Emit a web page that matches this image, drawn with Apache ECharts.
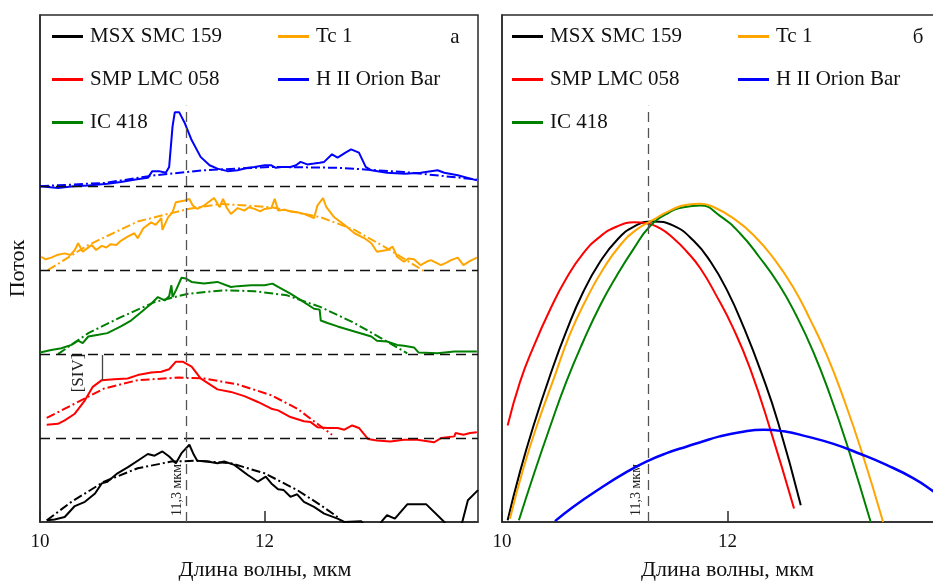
<!DOCTYPE html>
<html>
<head>
<meta charset="utf-8">
<script src="https://cdn.jsdelivr.net/npm/echarts@6/dist/echarts.min.js"></script>
<style>
html,body{margin:0;padding:0;background:#fff;}
#chart{width:933px;height:581px;}
</style>
</head>
<body>
<div id="chart"></div>
<script>
// ---------- DATA ----------
const seriesNames = ['MSX SMC 159', 'SMP LMC 058', 'IC 418', 'Tc 1', 'H II Orion Bar'];
const xTickLabels = ['10', '12'];
const marker113 = 11.3;
const siv = 10.55;

// Panel a: observed spectra (offset by baseline) and dash-dot fits
const blackSpec = [[10.06,0.02],[10.13,0.03],[10.22,0.06],[10.31,0.19],[10.40,0.24],[10.49,0.34],[10.55,0.46],[10.60,0.48],[10.69,0.58],[10.78,0.65],[10.87,0.73],[10.96,0.81],[11.02,0.79],[11.09,0.84],[11.15,0.78],[11.21,0.70],[11.26,0.82],[11.33,0.92],[11.37,0.80],[11.40,0.73],[11.49,0.72],[11.58,0.70],[11.64,0.72],[11.73,0.68],[11.85,0.56],[11.94,0.48],[12.01,0.54],[12.06,0.46],[12.12,0.39],[12.17,0.38],[12.23,0.30],[12.29,0.33],[12.35,0.24],[12.44,0.18],[12.53,0.10],[12.65,0.04],[12.71,0.00],[12.86,0.01],[12.90,-0.06],[13.00,-0.08],[13.05,0.02],[13.09,0.08],[13.16,0.04],[13.27,0.21],[13.44,0.21],[13.60,0.00],[13.64,-0.10],[13.73,-0.10],[13.76,0.00],[13.81,0.26],[13.90,0.38]];
const blackFit = [[10.06,0.02],[10.28,0.24],[10.57,0.48],[10.87,0.64],[11.17,0.72],[11.40,0.73],[11.70,0.70],[12.00,0.58],[12.29,0.38],[12.50,0.20],[12.65,0.06]];

const redSpec = [[10.06,1.16],[10.16,1.17],[10.22,1.21],[10.31,1.29],[10.40,1.45],[10.47,1.61],[10.55,1.69],[10.66,1.70],[10.78,1.71],[10.87,1.75],[10.99,1.78],[11.08,1.79],[11.15,1.82],[11.21,1.91],[11.27,1.91],[11.35,1.85],[11.43,1.71],[11.58,1.58],[11.70,1.55],[11.82,1.50],[11.94,1.43],[12.06,1.35],[12.12,1.33],[12.23,1.25],[12.35,1.20],[12.41,1.19],[12.47,1.13],[12.56,1.12],[12.65,1.12],[12.71,1.10],[12.78,1.15],[12.84,1.12],[12.92,0.99],[13.00,0.97],[13.12,0.96],[13.24,0.98],[13.36,0.98],[13.51,0.95],[13.57,1.00],[13.69,1.02],[13.70,1.06],[13.77,1.04],[13.83,1.06],[13.89,1.07]];
const redFit = [[10.06,1.24],[10.28,1.39],[10.57,1.59],[10.87,1.69],[11.23,1.72],[11.46,1.71],[11.76,1.64],[12.06,1.51],[12.29,1.35],[12.47,1.17],[12.60,1.04]];

const greenSpec = [[10.00,2.02],[10.10,2.05],[10.19,2.07],[10.28,2.11],[10.34,2.16],[10.38,2.13],[10.43,2.21],[10.52,2.23],[10.60,2.25],[10.72,2.33],[10.81,2.40],[10.90,2.50],[10.99,2.60],[11.05,2.68],[11.11,2.64],[11.15,2.69],[11.17,2.82],[11.18,2.68],[11.21,2.76],[11.26,2.91],[11.30,2.90],[11.35,2.86],[11.46,2.84],[11.58,2.86],[11.70,2.80],[11.76,2.81],[11.88,2.82],[12.00,2.82],[12.07,2.84],[12.12,2.80],[12.23,2.72],[12.35,2.62],[12.44,2.54],[12.49,2.53],[12.50,2.40],[12.56,2.37],[12.65,2.33],[12.80,2.27],[12.95,2.21],[13.00,2.16],[13.09,2.15],[13.18,2.11],[13.24,2.10],[13.33,2.08],[13.37,2.02],[13.54,2.01],[13.69,2.03],[13.89,2.03]];
const greenFit = [[10.16,2.00],[10.43,2.25],[10.72,2.44],[11.02,2.62],[11.32,2.72],[11.64,2.76],[11.91,2.75],[12.20,2.70],[12.50,2.56],[12.80,2.37],[13.09,2.15],[13.27,2.01]];

const orangeSpec = [[10.01,3.16],[10.05,3.13],[10.10,3.15],[10.15,3.18],[10.22,3.20],[10.27,3.18],[10.31,3.24],[10.34,3.32],[10.38,3.22],[10.42,3.26],[10.46,3.30],[10.50,3.24],[10.55,3.29],[10.59,3.27],[10.63,3.31],[10.68,3.30],[10.72,3.35],[10.78,3.40],[10.84,3.44],[10.87,3.38],[10.92,3.50],[10.99,3.57],[11.03,3.54],[11.08,3.62],[11.09,3.48],[11.14,3.63],[11.18,3.69],[11.21,3.81],[11.29,3.83],[11.33,3.85],[11.36,3.77],[11.40,3.73],[11.46,3.77],[11.52,3.83],[11.55,3.86],[11.60,3.75],[11.63,3.85],[11.66,3.75],[11.70,3.67],[11.76,3.74],[11.82,3.71],[11.86,3.75],[11.91,3.73],[11.96,3.70],[12.00,3.73],[12.06,3.74],[12.09,3.85],[12.12,3.71],[12.18,3.72],[12.23,3.70],[12.29,3.69],[12.35,3.67],[12.44,3.62],[12.47,3.77],[12.52,3.86],[12.55,3.75],[12.62,3.63],[12.71,3.54],[12.80,3.44],[12.89,3.38],[12.95,3.32],[13.00,3.22],[13.09,3.24],[13.14,3.28],[13.18,3.16],[13.24,3.10],[13.28,3.14],[13.33,3.13],[13.39,3.06],[13.44,3.10],[13.48,3.12],[13.57,3.06],[13.62,3.09],[13.66,3.12],[13.72,3.15],[13.77,3.06],[13.83,3.11],[13.89,3.15]];
const orangeFit = [[10.07,3.00],[10.43,3.30],[10.87,3.58],[11.32,3.73],[11.61,3.79],[12.06,3.75],[12.50,3.63],[12.80,3.48],[13.09,3.26],[13.42,2.99]];

const blueSpec = [[10.00,4.00],[10.16,3.98],[10.30,4.00],[10.43,4.01],[10.60,4.03],[10.72,4.05],[10.85,4.08],[10.96,4.10],[11.00,4.18],[11.06,4.18],[11.12,4.16],[11.15,4.23],[11.18,4.71],[11.20,4.88],[11.24,4.88],[11.29,4.75],[11.35,4.55],[11.43,4.35],[11.51,4.25],[11.58,4.21],[11.67,4.18],[11.76,4.19],[11.85,4.22],[11.91,4.23],[12.00,4.25],[12.06,4.25],[12.10,4.22],[12.15,4.23],[12.23,4.23],[12.28,4.25],[12.32,4.29],[12.38,4.26],[12.44,4.27],[12.49,4.28],[12.53,4.29],[12.60,4.38],[12.65,4.34],[12.72,4.40],[12.77,4.44],[12.84,4.40],[12.90,4.23],[12.95,4.19],[13.09,4.16],[13.25,4.15],[13.39,4.16],[13.54,4.19],[13.60,4.16],[13.72,4.13],[13.89,4.07]];
const blueFit = [[10.00,4.00],[10.58,4.04],[11.02,4.13],[11.46,4.19],[12.06,4.23],[12.65,4.22],[13.24,4.17],[13.89,4.08]];

const baselines = [1, 2, 3, 4];

// Panel b: fitted profiles
const blackModel = [[10.05,0.02],[10.16,0.60],[10.28,1.15],[10.43,1.76],[10.57,2.27],[10.72,2.74],[10.87,3.10],[11.02,3.36],[11.17,3.52],[11.34,3.58],[11.52,3.53],[11.70,3.35],[11.85,3.10],[12.00,2.75],[12.15,2.30],[12.30,1.78],[12.45,1.18],[12.65,0.20]];
const redModel = [[10.05,1.15],[10.16,1.67],[10.28,2.09],[10.43,2.54],[10.57,2.90],[10.72,3.20],[10.87,3.40],[11.02,3.52],[11.17,3.57],[11.28,3.56],[11.40,3.50],[11.52,3.38],[11.64,3.22],[11.76,3.02],[11.90,2.70],[12.05,2.31],[12.20,1.83],[12.38,1.10],[12.59,0.16]];
const greenModel = [[10.15,0.02],[10.28,0.56],[10.43,1.15],[10.57,1.67],[10.72,2.15],[10.87,2.58],[11.02,2.94],[11.17,3.26],[11.31,3.52],[11.46,3.67],[11.61,3.75],[11.76,3.77],[11.93,3.65],[12.11,3.44],[12.28,3.16],[12.46,2.82],[12.61,2.46],[12.76,2.03],[12.91,1.51],[13.06,0.92],[13.27,0.00]];
const orangeModel = [[10.07,0.04],[10.19,0.64],[10.31,1.15],[10.46,1.71],[10.60,2.23],[10.75,2.66],[10.90,3.02],[11.05,3.30],[11.19,3.48],[11.34,3.60],[11.49,3.71],[11.64,3.78],[11.76,3.79],[11.88,3.75],[12.05,3.62],[12.23,3.42],[12.41,3.14],[12.59,2.78],[12.73,2.42],[12.88,1.99],[13.03,1.47],[13.19,0.84],[13.38,0.00]];
const blueModel = [[10.47,0.01],[10.63,0.18],[10.87,0.40],[11.11,0.60],[11.28,0.72],[11.46,0.82],[11.64,0.90],[11.76,0.95],[11.93,1.02],[12.11,1.07],[12.32,1.10],[12.50,1.08],[12.70,1.02],[12.94,0.93],[13.18,0.81],[13.41,0.68],[13.65,0.52],[13.82,0.37],[14.00,0.19]];

// ---------- STYLE ----------
const C = {black:'#000000', red:'#ff0000', green:'#008000', orange:'#ffa500', blue:'#0000ff'};
const FONT = "'Liberation Serif','Times New Roman',serif";
const AX = '#2a2a2a';
const dashDot = [9, 3, 2, 3];

function line(name, data, color, idx, opts) {
  opts = opts || {};
  return {
    type: 'line', name: name, data: data,
    xAxisIndex: idx, yAxisIndex: idx,
    symbol: 'none', smooth: opts.smooth || false,
    clip: true, z: 3,
    lineStyle: {color: color, width: opts.width || 2, type: opts.type || 'solid'},
    itemStyle: {color: color},
    emphasis: {disabled: true},
    animation: false
  };
}

function xAxis(idx, max, shift) {
  return {
    type: 'value', gridIndex: idx, min: 10, max: max, interval: 2,
    name: 'Длина волны, мкм', nameLocation: 'middle', nameGap: 37,
    nameTextStyle: {fontFamily: FONT, fontSize: 22, color: '#111', padding: [0, 0, 0, shift]},
    axisLine: {show: true, onZero: false, lineStyle: {color: AX, width: 1.5}},
    axisTick: {show: true, inside: true, length: 11, lineStyle: {color: AX, width: 1.5}},
    axisLabel: {fontFamily: FONT, fontSize: 19, color: '#111', margin: 11, showMaxLabel: false,
      formatter: v => (xTickLabels.indexOf(String(v)) >= 0 ? String(v) : '')},
    splitLine: {show: false}
  };
}
function yAxis(idx, withName) {
  return {
    type: 'value', gridIndex: idx, min: 0, max: 6.04,
    name: withName ? 'Поток' : '', nameLocation: 'middle', nameGap: 11, nameRotate: 90,
    nameTextStyle: {fontFamily: FONT, fontSize: 22, color: '#111'},
    axisLine: {show: true, lineStyle: {color: AX, width: 1.5}},
    axisTick: {show: false}, axisLabel: {show: false}, splitLine: {show: false}
  };
}

const guideA = {
  type: 'line', name: 'guideA', data: [], xAxisIndex: 0, yAxisIndex: 0, z: 1, silent: true, animation: false,
  markLine: {
    silent: true, symbol: ['none', 'none'], animation: false, label: {show: false},
    data: baselines.map(b => ({yAxis: b, lineStyle: {color: '#111', width: 1.3, type: [10, 6]}}))
      .concat([
        [{coord: [marker113, 0], lineStyle: {color: '#555', width: 1.3, type: [10, 6]}}, {coord: [marker113, 4.96]}],
        [{coord: [siv, 1.69], lineStyle: {color: '#444', width: 1.3, type: 'solid'}}, {coord: [siv, 1.99]}]
      ])
  }
};
const guideB = {
  type: 'line', name: 'guideB', data: [], xAxisIndex: 1, yAxisIndex: 1, z: 1, silent: true, animation: false,
  markLine: {
    silent: true, symbol: ['none', 'none'], animation: false, label: {show: false},
    data: [[{coord: [marker113, 0], lineStyle: {color: '#555', width: 1.3, type: [10, 6]}}, {coord: [marker113, 4.96]}]]
  }
};

function legend(names, left) {
  return {
    data: names, orient: 'vertical', left: left, top: 26, padding: 0,
    itemWidth: 31, itemHeight: 3, icon: 'rect', itemGap: 22,
    selectedMode: false,
    textStyle: {fontFamily: FONT, fontSize: 21, color: '#111', padding: [0, 0, 0, 2]}
  };
}

const option = {
  backgroundColor: '#fff',
  animation: false,
  grid: [
    {left: 40, top: 15, width: 438, bottom: 59, show: true, borderColor: AX, borderWidth: 1.5, outerBoundsMode: 'none', containLabel: false},
    {left: 502, top: 15, right: -20, bottom: 59, show: true, borderColor: AX, borderWidth: 1.5, outerBoundsMode: 'none', containLabel: false}
  ],
  xAxis: [xAxis(0, 13.9, 12), xAxis(1, 14, 0)],
  yAxis: [yAxis(0, true), yAxis(1, false)],
  legend: [
    legend([seriesNames[0], seriesNames[1], seriesNames[2]], 52),
    legend([seriesNames[3], seriesNames[4]], 278),
    legend([seriesNames[0], seriesNames[1], seriesNames[2]], 512),
    legend([seriesNames[3], seriesNames[4]], 738)
  ],
  graphic: [
    {type: 'text', x: 455, y: 37, silent: true, style: {text: 'а', font: '21px ' + FONT, fill: '#111', textAlign: 'center', textVerticalAlign: 'middle'}},
    {type: 'text', x: 918, y: 37, silent: true, style: {text: 'б', font: '21px ' + FONT, fill: '#111', textAlign: 'center', textVerticalAlign: 'middle'}},
    {type: 'text', x: 177, y: 490, rotation: Math.PI / 2, silent: true, style: {text: '11,3 мкм', font: '14px ' + FONT, fill: '#222', textAlign: 'center', textVerticalAlign: 'middle'}},
    {type: 'text', x: 636, y: 490, rotation: Math.PI / 2, silent: true, style: {text: '11,3 мкм', font: '14px ' + FONT, fill: '#222', textAlign: 'center', textVerticalAlign: 'middle'}},
    {type: 'text', x: 79, y: 373, rotation: Math.PI / 2, silent: true, style: {text: '[SIV]', font: '17px ' + FONT, fill: '#222', textAlign: 'center', textVerticalAlign: 'middle'}}
  ],
  series: [
    guideA, guideB,
    line(seriesNames[4], blueSpec, C.blue, 0),
    line('fit4', blueFit, C.blue, 0, {type: dashDot}),
    line(seriesNames[3], orangeSpec, C.orange, 0),
    line('fit3', orangeFit, C.orange, 0, {type: dashDot}),
    line(seriesNames[2], greenSpec, C.green, 0),
    line('fit2', greenFit, C.green, 0, {type: dashDot}),
    line(seriesNames[1], redSpec, C.red, 0),
    line('fit1', redFit, C.red, 0, {type: dashDot}),
    line(seriesNames[0], blackSpec, C.black, 0),
    line('fit0', blackFit, C.black, 0, {type: dashDot}),
    line(seriesNames[0], blackModel, C.black, 1, {smooth: true}),
    line(seriesNames[1], redModel, C.red, 1, {smooth: true}),
    line(seriesNames[2], greenModel, C.green, 1, {smooth: true}),
    line(seriesNames[3], orangeModel, C.orange, 1, {smooth: true}),
    line(seriesNames[4], blueModel, C.blue, 1, {smooth: true, width: 2.5})
  ]
};

const chart = echarts.init(document.getElementById('chart'), null, {renderer: 'canvas'});
chart.setOption(option);
</script>
</body>
</html>
